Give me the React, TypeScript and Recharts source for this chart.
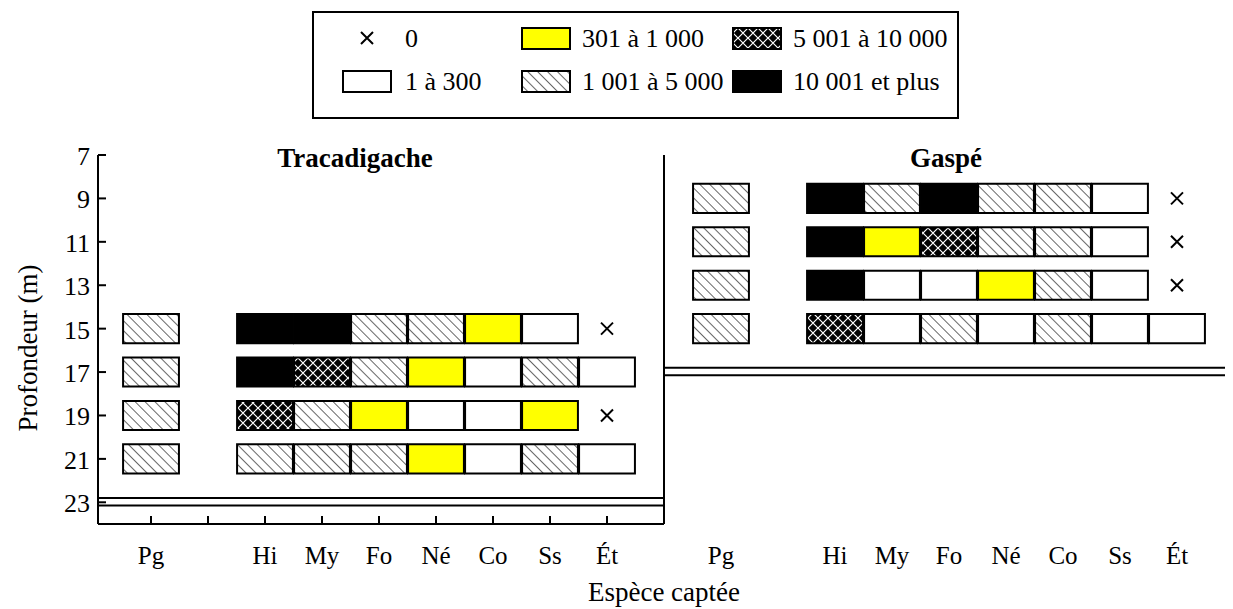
import {
  ComposedChart,
  XAxis,
  YAxis,
  Scatter,
  ReferenceArea,
  ReferenceLine,
  Label,
} from "recharts";

const FONT = '"Liberation Serif", "Times New Roman", serif';

// species on the x axis (a blank slot sits between Pg and Hi)
const species = ["Pg", "Hi", "My", "Fo", "Né", "Co", "Ss", "Ét"];
const speciesSlots = [1, 3, 4, 5, 6, 7, 8, 9];
const slotLabels = ["", "Pg", "", "Hi", "My", "Fo", "Né", "Co", "Ss", "Ét"];
const depthTicks = [7, 9, 11, 13, 15, 17, 19, 21, 23];

// abundance classes: 0 = ×, 1 = white, 2 = yellow, 3 = hatch, 4 = crosshatch, 5 = black
const classLabels = [
  "0",
  "1 à 300",
  "301 à 1 000",
  "1 001 à 5 000",
  "5 001 à 10 000",
  "10 001 et plus",
];
const classFills = ["none", "#ffffff", "#ffff00", "url(#hatch)", "url(#crosshatch)", "#000000"];

const tracaDepths = [15, 17, 19, 21];
const tracaClasses = [
  [3, 5, 5, 3, 3, 2, 1, 0],
  [3, 5, 4, 3, 2, 1, 3, 1],
  [3, 4, 3, 2, 1, 1, 2, 0],
  [3, 3, 3, 3, 2, 1, 3, 1],
];
const tracaSeafloor = [22.8, 23.15];

const gaspeDepths = [9, 11, 13, 15];
const gaspeClasses = [
  [3, 5, 3, 5, 3, 3, 1, 0],
  [3, 5, 2, 4, 3, 3, 1, 0],
  [3, 5, 1, 1, 2, 3, 1, 0],
  [3, 4, 1, 3, 1, 3, 1, 1],
];
const gaspeSeafloor = [16.8, 17.15];

const sites = [
  { name: "Tracadigache", offset: 0, depths: tracaDepths, classes: tracaClasses, floor: tracaSeafloor },
  { name: "Gaspé", offset: 10, depths: gaspeDepths, classes: gaspeClasses, floor: gaspeSeafloor },
];

const X_MIN = 0.07;
const X_MAX = 19.93;
const DIVIDER = 10;

type Cell = { x: number; y: number; cls: number; key: string };
const cells: Cell[] = [];
const zeros: { x: number; y: number }[] = [];
sites.forEach((s) => {
  s.depths.forEach((d, r) => {
    s.classes[r].forEach((cls, i) => {
      const x = speciesSlots[i] + s.offset;
      if (cls === 0) zeros.push({ x, y: d });
      else cells.push({ x, y: d, cls, key: `${s.name}-${d}-${species[i]}` });
    });
  });
});

const xTicks = sites.flatMap((s) => speciesSlots.map((p) => p + s.offset).concat(s.offset + 2)).sort((a, b) => a - b);

const Cross = ({ cx, cy }: any) => (
  <path
    d={`M${cx - 6},${cy - 6}L${cx + 6},${cy + 6}M${cx + 6},${cy - 6}L${cx - 6},${cy + 6}`}
    stroke="#000"
    strokeWidth={2}
  />
);

const DepthTick = ({ x, y, payload }: any) => (
  <g>
    <line x1={x + 8} x2={x + 16} y1={y} y2={y} stroke="#000" strokeWidth={2} />
    <text x={x} y={y + 10} textAnchor="end" fontSize={26} fontFamily={FONT} fill="#000">
      {payload.value}
    </text>
  </g>
);

const SpeciesTick = ({ x, y, payload }: any) => {
  const v = payload.value as number;
  return (
    <g>
      {v < DIVIDER && <line x1={x} x2={x} y1={y} y2={y - 8} stroke="#000" strokeWidth={2} />}
      <text x={x} y={y + 40} textAnchor="middle" fontSize={25} fontFamily={FONT} fill="#000">
        {slotLabels[v % 10]}
      </text>
    </g>
  );
};

const legendCols = [305 + 30, 514, 725];
const legendText = [397, 574, 785];
const legendRows = [30, 73];

const LegendBox = () => (
  <g fontFamily={FONT} fontSize={26}>
    <rect x={305} y={4} width={645} height={106} fill="#fff" stroke="#000" strokeWidth={2} />
    {classLabels.map((lab, k) => {
      const col = Math.floor(k / 2);
      const row = k % 2;
      const cy = legendRows[row];
      return (
        <g key={lab}>
          {k === 0 ? (
            <Cross cx={legendCols[col] + 24} cy={cy} />
          ) : (
            <rect
              x={legendCols[col]}
              y={cy - 10}
              width={48}
              height={21}
              fill={classFills[k]}
              stroke="#000"
              strokeWidth={2}
            />
          )}
          <text x={legendText[col]} y={cy + 9} fill="#000">
            {lab}
          </text>
        </g>
      );
    })}
  </g>
);

export default function App() {
  return (
    <ComposedChart
      width={1225}
      height={601}
      margin={{ top: 147, right: 3, bottom: 0, left: 0 }}
      style={{ fontFamily: FONT }}
    >
      <defs>
        <pattern id="hatch" patternUnits="userSpaceOnUse" width={7} height={7} patternTransform="rotate(-45)">
          <rect width={7} height={7} fill="#fff" />
          <line x1={0} y1={0} x2={0} y2={7} stroke="#000" strokeWidth={1.2} />
        </pattern>
        <pattern id="crosshatch" patternUnits="userSpaceOnUse" width={10} height={10}>
          <rect width={10} height={10} fill="#000" />
          <path d="M0,0L10,10M10,0L0,10" stroke="#fff" strokeWidth={1.2} />
        </pattern>
      </defs>

      <XAxis
        type="number"
        dataKey="x"
        domain={[X_MIN, X_MAX]}
        ticks={xTicks}
        allowDataOverflow
        axisLine={false}
        tickLine={false}
        tickSize={0}
        tickMargin={0}
        height={85}
        interval={0}
        tick={<SpeciesTick />}
      >
        <Label value="Espèce captée" position="insideBottom" offset={8} fontSize={27} fill="#000" fontFamily={FONT} />
      </XAxis>
      <YAxis
        type="number"
        dataKey="y"
        domain={[7, 24]}
        reversed
        ticks={depthTicks}
        allowDataOverflow
        interval={0}
        width={90}
        axisLine={{ stroke: "#000", strokeWidth: 2 }}
        tickLine={false}
        tickSize={0}
        tickMargin={8}
        tick={<DepthTick />}
      />

      {cells.map((c) => (
        <ReferenceArea
          key={c.key}
          x1={c.x - 0.49}
          x2={c.x + 0.49}
          y1={c.y - 0.67}
          y2={c.y + 0.67}
          fill={classFills[c.cls]}
          fillOpacity={1}
          stroke="#000"
          strokeWidth={2}
          ifOverflow="visible"
        />
      ))}

      <ReferenceLine
        segment={[{ x: X_MIN, y: 24 }, { x: DIVIDER, y: 24 }]}
        stroke="#000"
        strokeWidth={2}
        ifOverflow="visible"
      />
      <ReferenceLine x={DIVIDER} stroke="#000" strokeWidth={2} />
      {sites.flatMap((s) =>
        s.floor.map((f) => (
          <ReferenceLine
            key={`${s.name}-floor-${f}`}
            segment={[
              { x: s.offset === 0 ? X_MIN : DIVIDER, y: f },
              { x: s.offset === 0 ? DIVIDER : X_MAX, y: f },
            ]}
            stroke="#000"
            strokeWidth={2}
            ifOverflow="visible"
          />
        ))
      )}

      <Scatter data={zeros} shape={<Cross />} isAnimationActive={false} />

      <text x={347} y={159} textAnchor="middle" fontSize={27} fontWeight="bold" fontFamily={FONT} fill="#000">
        Tracadigache
      </text>
      <text x={938} y={159} textAnchor="middle" fontSize={27} fontWeight="bold" fontFamily={FONT} fill="#000">
        Gaspé
      </text>
      <text
        x={20}
        y={340}
        transform="rotate(-90 20 340)"
        textAnchor="middle"
        dominantBaseline="central"
        fontSize={27}
        fontFamily={FONT}
        fill="#000"
      >
        Profondeur (m)
      </text>

      <LegendBox />
    </ComposedChart>
  );
}
